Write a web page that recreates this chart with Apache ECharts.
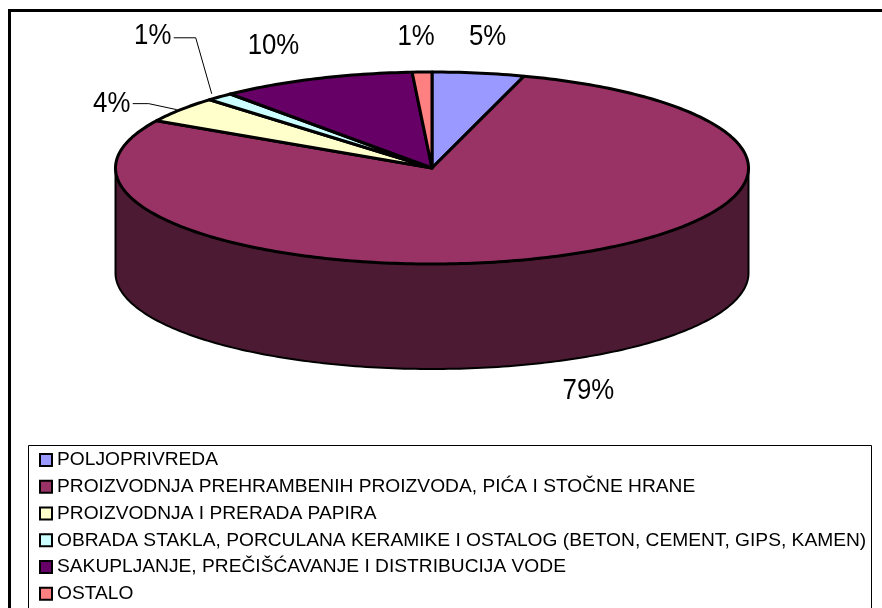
<!DOCTYPE html>
<html><head><meta charset="utf-8">
<style>html,body{margin:0;padding:0;background:#fff}#c{width:882px;height:608px}</style>
<script src="https://cdn.jsdelivr.net/npm/echarts@6/dist/echarts.min.js"></script>
</head><body><div id="c"></div>
<script>
const categories = [
  'POLJOPRIVREDA',
  'PROIZVODNJA PREHRAMBENIH PROIZVODA, PIĆA I STOČNE HRANE',
  'PROIZVODNJA I PRERADA PAPIRA',
  'OBRADA STAKLA, PORCULANA KERAMIKE I OSTALOG (BETON, CEMENT, GIPS, KAMEN)',
  'SAKUPLJANJE, PREČIŠĆAVANJE I DISTRIBUCIJA VODE',
  'OSTALO'
];
const values = [4.7, 78.5, 4.4, 1.4, 10.0, 1.0];
const colors = ['#9999FF', '#993366', '#FFFFCC', '#CCFFFF', '#660066', '#FF8080'];
const sideColors = ['#4D4D80', '#4D1A33', '#808066', '#668080', '#330033', '#804040'];

// pie geometry and label layout (px)
const pie = { cx: 432, cy: 168, rx: 316.5, ry: 96, depth: 105 };
const labelOffsets = [[9, -36], [39, 134], [-69, -6], [-67, -61], [-42, -33], [-6, -35]];
const leaderElbows = [null, null, [-32, -6], [-24, -59], null, null];
const leaderEnds = [null, null, [-4, 0], [-8, -3], null, null];

const total = values.reduce((a, b) => a + b, 0);
const rim = (deg, dy) => {
  const t = deg * Math.PI / 180;
  return [pie.cx + pie.rx * Math.sin(t), pie.cy - pie.ry * Math.cos(t) + (dy || 0)];
};
const sweep = (a, b) => {
  const pts = [];
  const n = Math.max(2, Math.ceil(Math.abs(b - a)));
  for (let i = 0; i <= n; i++) pts.push(rim(a + (b - a) * i / n));
  return pts;
};

function makeRender(idx) {
  return function (params, api) {
    const v = api.value(0);
    let before = 0;
    for (let i = 0; i < idx; i++) before += values[i];
    const a0 = before / total * 360, a1 = a0 + v / total * 360, mid = (a0 + a1) / 2;
    const children = [];
    const s0 = Math.max(a0, 90), s1 = Math.min(a1, 270);
    if (s1 > s0) {
      const upper = sweep(s0, s1);
      const lower = upper.slice().reverse().map(p => [p[0], p[1] + pie.depth]);
      children.push({
        type: 'polygon', shape: { points: upper.concat(lower) },
        style: { fill: sideColors[idx], stroke: '#000', lineWidth: 2, lineJoin: 'round' }
      });
    }
    children.push({
      type: 'polygon', shape: { points: [[pie.cx, pie.cy]].concat(sweep(a0, a1)) },
      style: { fill: colors[idx], stroke: '#000', lineWidth: 3, lineJoin: 'round' }
    });
    const m = rim(mid);
    const lp = [m[0] + labelOffsets[idx][0], m[1] + labelOffsets[idx][1]];
    if (leaderElbows[idx]) {
      const e = [m[0] + leaderElbows[idx][0], m[1] + leaderElbows[idx][1]];
      children.push({
        type: 'polyline',
        shape: { points: [[lp[0] + 21, e[1]], e, [m[0] + leaderEnds[idx][0], m[1] + leaderEnds[idx][1]]] },
        style: { fill: 'none', stroke: '#000', lineWidth: 1 }
      });
    }
    children.push({
      type: 'text', x: lp[0], y: lp[1], scaleX: 0.89,
      style: {
        text: Math.round(v) + '%', align: 'center', verticalAlign: 'middle',
        fontFamily: 'Liberation Sans', fontSize: 29, fill: '#000'
      }
    });
    return { type: 'group', children };
  };
}

const chart = echarts.init(document.getElementById('c'), null, { renderer: 'canvas' });
chart.setOption({
  animation: false,
  backgroundColor: '#fff',
  graphic: [
    { type: 'rect', z: -10, shape: { x: 9.5, y: 10.5, width: 1000, height: 800 },
      style: { fill: '#fff', stroke: '#000', lineWidth: 3 } },
    { type: 'rect', z: -9, shape: { x: 28.5, y: 445.5, width: 843, height: 300 },
      style: { fill: '#fff', stroke: '#000', lineWidth: 1 } }
  ],
  legend: {
    orient: 'vertical', left: 39, top: 449.5, padding: 0,
    itemWidth: 12, itemHeight: 12, itemGap: 5.75,
    icon: 'rect', selectedMode: false,
    textStyle: { fontFamily: 'Liberation Sans', fontSize: 19.2, color: '#000', lineHeight: 21 },
    itemStyle: { borderColor: '#000', borderWidth: 2 },
    data: categories
  },
  series: categories.map((name, i) => ({
    type: 'custom', name, coordinateSystem: 'none',
    itemStyle: { color: colors[i] },
    renderItem: makeRender(i),
    data: [[values[i]]],
    silent: true
  }))
});
</script></body></html>
